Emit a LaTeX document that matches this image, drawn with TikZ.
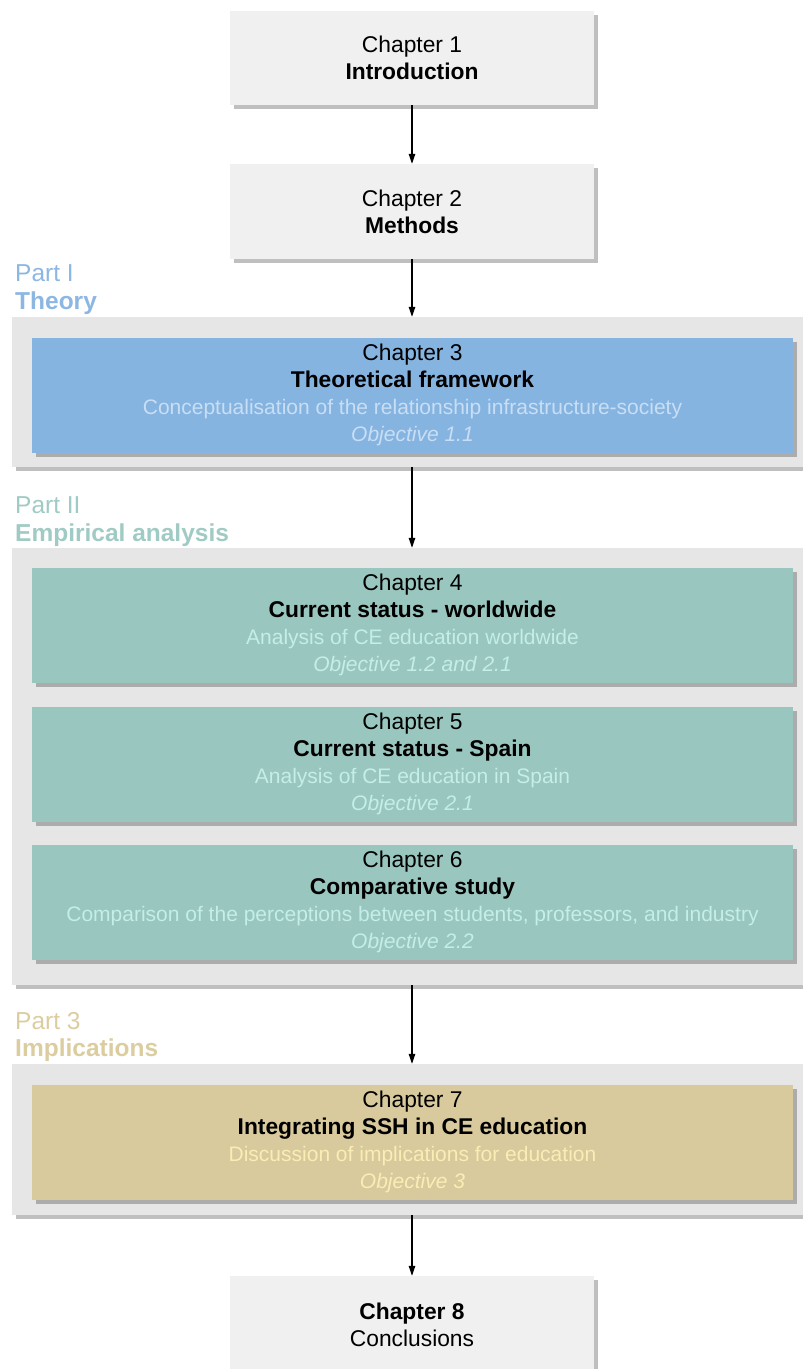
\documentclass[tikz,border=0pt]{standalone}
\usepackage{fontspec}
\setmainfont{Liberation Sans}
\usetikzlibrary{shadows,arrows.meta}
\definecolor{lightbox}{HTML}{F0F0F0}
\definecolor{partbox}{HTML}{E6E6E6}
\definecolor{bluefill}{HTML}{86B4E1}
\definecolor{tealfill}{HTML}{99C6BF}
\definecolor{tanfill}{HTML}{D8CA9C}
\definecolor{bluelabel}{HTML}{8DB7E3}
\definecolor{teallabel}{HTML}{A0CBC4}
\definecolor{tanlabel}{HTML}{DCCDA0}
\definecolor{bluesub}{HTML}{C8DEF4}
\definecolor{tealsub}{HTML}{C4EEE7}
\definecolor{tansub}{HTML}{FBEDB6}
\newcommand{\chapfnt}{\fontsize{22.8}{27}\selectfont}
\newcommand{\subfnt}{\fontsize{21}{27}\selectfont}
\tikzset{
  shad/.style={drop shadow={shadow xshift=4pt,shadow yshift=-4pt,opacity=0.25,fill=black}},
  chapbox/.style={shad,rectangle,inner sep=0pt,align=center,text=black,
    font=\chapfnt},
  smallchap/.style={chapbox,fill=lightbox,minimum width=364pt},
  widechap/.style={chapbox,minimum width=761pt,minimum height=115pt},
  partframe/.style={shad,rectangle,fill=partbox,minimum width=800pt,inner sep=0pt},
  partlabel/.style={anchor=west,inner sep=0pt,font=\fontsize{24.5}{27}\selectfont},
  arr/.style={draw=black,line width=1.2pt,-{Triangle[length=10pt,width=6.5pt]}}
}
\begin{document}
\begin{tikzpicture}[x=1pt,y=-1pt]
\useasboundingbox (0,0) rectangle (803,1369);
% part frames
\node[partframe,minimum height=150pt] (p1) at (412,392) {};
\node[partframe,minimum height=437pt] (p2) at (412,766.5) {};
\node[partframe,minimum height=151pt] (p3) at (412,1139.5) {};
% chapters
\node[smallchap,minimum height=94pt] (c1) at (412,58) {Chapter 1\\\textbf{Introduction}};
\node[smallchap,minimum height=95pt] (c2) at (412,211.5) {Chapter 2\\\textbf{Methods}};
\node[widechap,fill=bluefill] (c3) at (412.5,395) {Chapter 3\\\textbf{Theoretical framework}\\{\subfnt\color{bluesub}Conceptualisation of the relationship infrastructure-society}\\{\subfnt\color{bluesub}\itshape Objective 1.1}};
\node[widechap,fill=tealfill] (c4) at (412.5,625) {Chapter 4\\\textbf{Current status - worldwide}\\{\subfnt\color{tealsub}Analysis of CE education worldwide}\\{\subfnt\color{tealsub}\itshape Objective 1.2 and 2.1}};
\node[widechap,fill=tealfill] (c5) at (412.5,764) {Chapter 5\\\textbf{Current status - Spain}\\{\subfnt\color{tealsub}Analysis of CE education in Spain}\\{\subfnt\color{tealsub}\itshape Objective 2.1}};
\node[widechap,fill=tealfill] (c6) at (412.5,902) {Chapter 6\\\textbf{Comparative study}\\{\subfnt\color{tealsub}Comparison of the perceptions between students, professors, and industry}\\{\subfnt\color{tealsub}\itshape Objective 2.2}};
\node[widechap,fill=tanfill] (c7) at (412.5,1142) {Chapter 7\\\textbf{Integrating SSH in CE education}\\{\subfnt\color{tansub}Discussion of implications for education}\\{\subfnt\color{tansub}\itshape Objective 3}};
\node[smallchap,minimum height=97pt] (c8) at (412,1324.5) {\textbf{Chapter 8}\\Conclusions};
% part labels
\node[partlabel,text=bluelabel] (l1a) at (15,273) {Part I};
\node[partlabel,text=bluelabel] (l1b) at (15,303) {\bfseries Theory};
\node[partlabel,text=teallabel] (l2a) at (15,505) {Part II};
\node[partlabel,text=teallabel] (l2b) at (15,535) {\bfseries Empirical analysis};
\node[partlabel,text=tanlabel] (l3a) at (15,1021) {Part 3};
\node[partlabel,text=tanlabel] (l3b) at (15,1050) {\bfseries Implications};
% arrows
\draw[arr] (c1.south) -- (c2.north);
\draw[arr] (c2.south) -- (p1.north);
\draw[arr] (p1.south) -- (p2.north);
\draw[arr] (p2.south) -- (p3.north);
\draw[arr] (p3.south) -- (c8.north);
\end{tikzpicture}
\end{document}
